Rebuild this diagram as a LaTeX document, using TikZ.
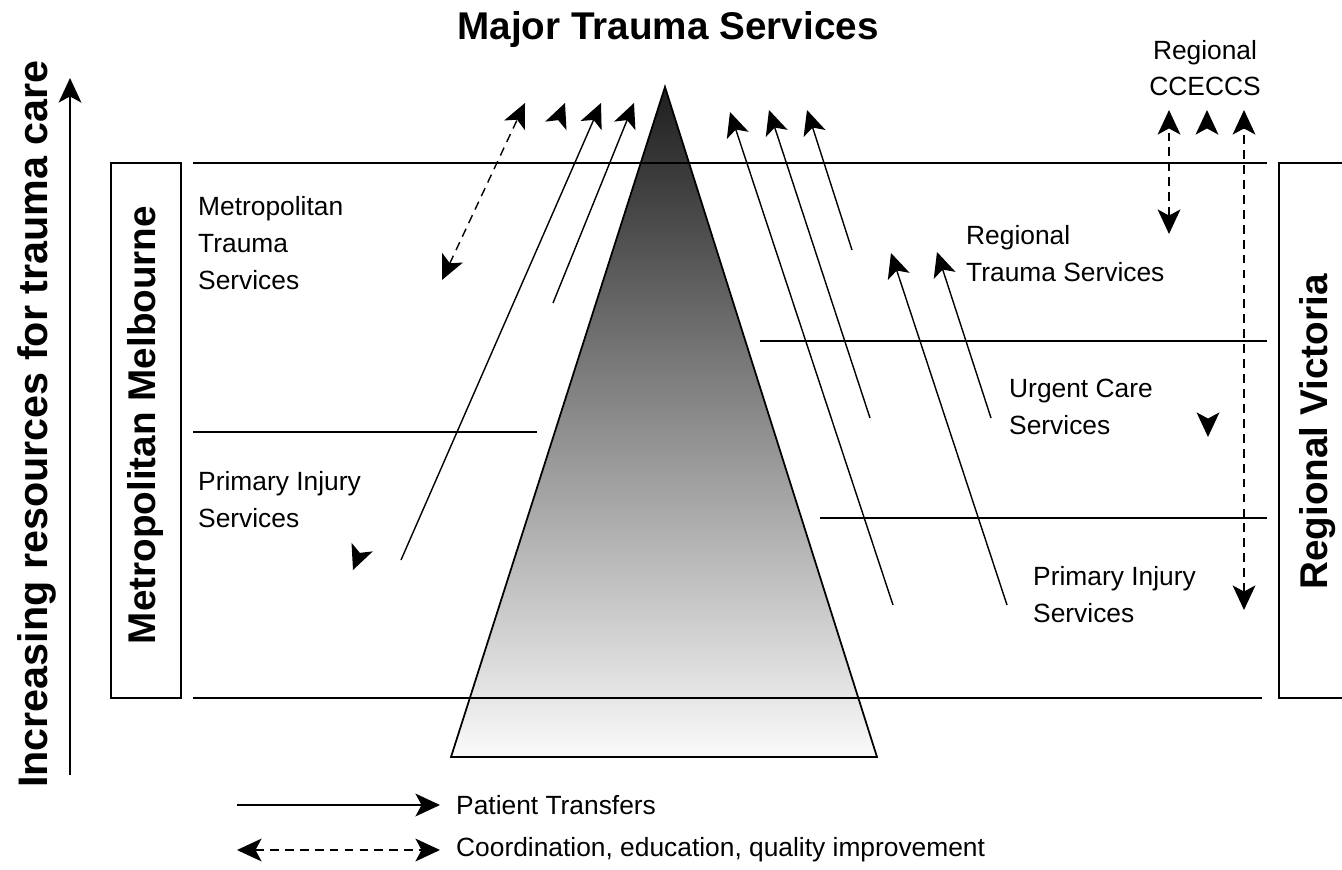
\documentclass[tikz,border=0pt]{standalone}
\usepackage{fontspec}
\setmainfont{Liberation Sans}
\usetikzlibrary{arrows.meta}

\tikzset{
  tier/.style={line width=1.2pt},
  transfer/.style={line width=0.8pt,->},
  coordarrow/.style={line width=0.8pt,dash pattern=on 5pt off 3.5pt,<->},
  lonehead/.style={line width=0.8pt,->},
  svc/.style={anchor=west,align=left,font=\fontsize{15}{21}\selectfont},
  heading/.style={font=\bfseries\fontsize{22}{26}\selectfont},
}

\begin{document}
\begin{tikzpicture}[x=0.02cm,y=-0.02cm,>={Stealth[length=14pt,width=13pt,inset=3.5pt]}]
  \clip (0,0) rectangle (1342,869);

  % pyramid of services
  \shade[top color=black!88,bottom color=black!2] (665,87) -- (877,757) -- (451,757) -- cycle;
  \draw[line width=1pt] (665,87) -- (877,757) -- (451,757) -- cycle;

  % tiers
  \draw[tier] (193,163) -- (1267,163);
  \draw[tier] (193,698) -- (1262,698);
  \draw[tier] (193,432) -- (537,432);
  \draw[tier] (760,341) -- (1267,341);
  \draw[tier] (820,518) -- (1267,518);

  % side boxes
  \draw[tier] (111,163) rectangle (181,698);
  \draw[tier] (1279,163) rectangle (1360,698);
  \node[heading,rotate=90] (metro) at (146,425) {Metropolitan Melbourne};
  \node[heading,rotate=90] (vic) at (1318,432) {Regional Victoria};

  % resources axis
  \coordinate (axlo) at (70,775);
  \coordinate (axhi) at (70,78);
  \draw[line width=1pt,->] (axlo) -- (axhi);
  \node[heading,rotate=90,font=\bfseries\fontsize{23.5}{26}\selectfont] (axis) at (37,424) {Increasing resources for trauma care};

  % labels
  \node[heading] (mts) at (668,30) {Major Trauma Services};
  \node[align=center,font=\fontsize{15}{20.5}\selectfont] (cceccs) at (1205,68) {Regional\\CCECCS};
  \node[svc] (mettr) at (192,243) {Metropolitan\\Trauma\\Services};
  \node[svc] (metpi) at (192,500) {Primary Injury\\Services};
  \node[svc] (regtr) at (960,254) {Regional\\Trauma Services};
  \node[svc] (urg) at (1003,407) {Urgent Care\\Services};
  \node[svc] (regpi) at (1027,595) {Primary Injury\\Services};

  % metropolitan arrows
  \coordinate (c1a) at (442,280);
  \coordinate (c1b) at (525,103);
  \coordinate (h2t) at (563,108);
  \coordinate (h2) at (565,103);
  \coordinate (t3a) at (401,560);
  \coordinate (t3b) at (601,103);
  \coordinate (t4a) at (553,303);
  \coordinate (t4b) at (634,103);
  \coordinate (h5t) at (355,565);
  \coordinate (h5) at (353,570);
  \draw[coordarrow] (c1a) -- (c1b);
  \draw[lonehead] (h2t) -- (h2);
  \draw[transfer] (t3a) -- (t3b);
  \draw[transfer] (t4a) -- (t4b);
  \draw[lonehead] (h5t) -- (h5);

  % regional arrows
  \coordinate (t6a) at (893,605);
  \coordinate (t6b) at (730,112);
  \coordinate (t7a) at (870,418);
  \coordinate (t7b) at (769,110);
  \coordinate (t8a) at (852,250);
  \coordinate (t8b) at (807,110);
  \coordinate (t9a) at (1007,605);
  \coordinate (t9b) at (891,253);
  \coordinate (t10a) at (991,418);
  \coordinate (t10b) at (937,252);
  \draw[transfer] (t6a) -- (t6b);
  \draw[transfer] (t7a) -- (t7b);
  \draw[transfer] (t8a) -- (t8b);
  \draw[transfer] (t9a) -- (t9b);
  \draw[transfer] (t10a) -- (t10b);

  % CCECCS links
  \coordinate (c11a) at (1169,234);
  \coordinate (c11b) at (1169,110);
  \coordinate (h12t) at (1207,116);
  \coordinate (h12) at (1207,110);
  \coordinate (c13a) at (1244,610);
  \coordinate (c13b) at (1244,110);
  \coordinate (h14t) at (1208,431);
  \coordinate (h14) at (1208,437);
  \draw[coordarrow] (c11a) -- (c11b);
  \draw[lonehead] (h12t) -- (h12);
  \draw[coordarrow] (c13a) -- (c13b);
  \draw[lonehead] (h14t) -- (h14);

  % legend
  \coordinate (lg1a) at (237,805);
  \coordinate (lg1b) at (440,805);
  \coordinate (lg2a) at (237,850);
  \coordinate (lg2b) at (440,850);
  \draw[transfer] (lg1a) -- (lg1b);
  \draw[coordarrow] (lg2a) -- (lg2b);
  \node[svc] (lgpt) at (450,805) {Patient Transfers};
  \node[svc] (lgco) at (450,850) {Coordination, education, quality improvement};
\end{tikzpicture}
\end{document}
